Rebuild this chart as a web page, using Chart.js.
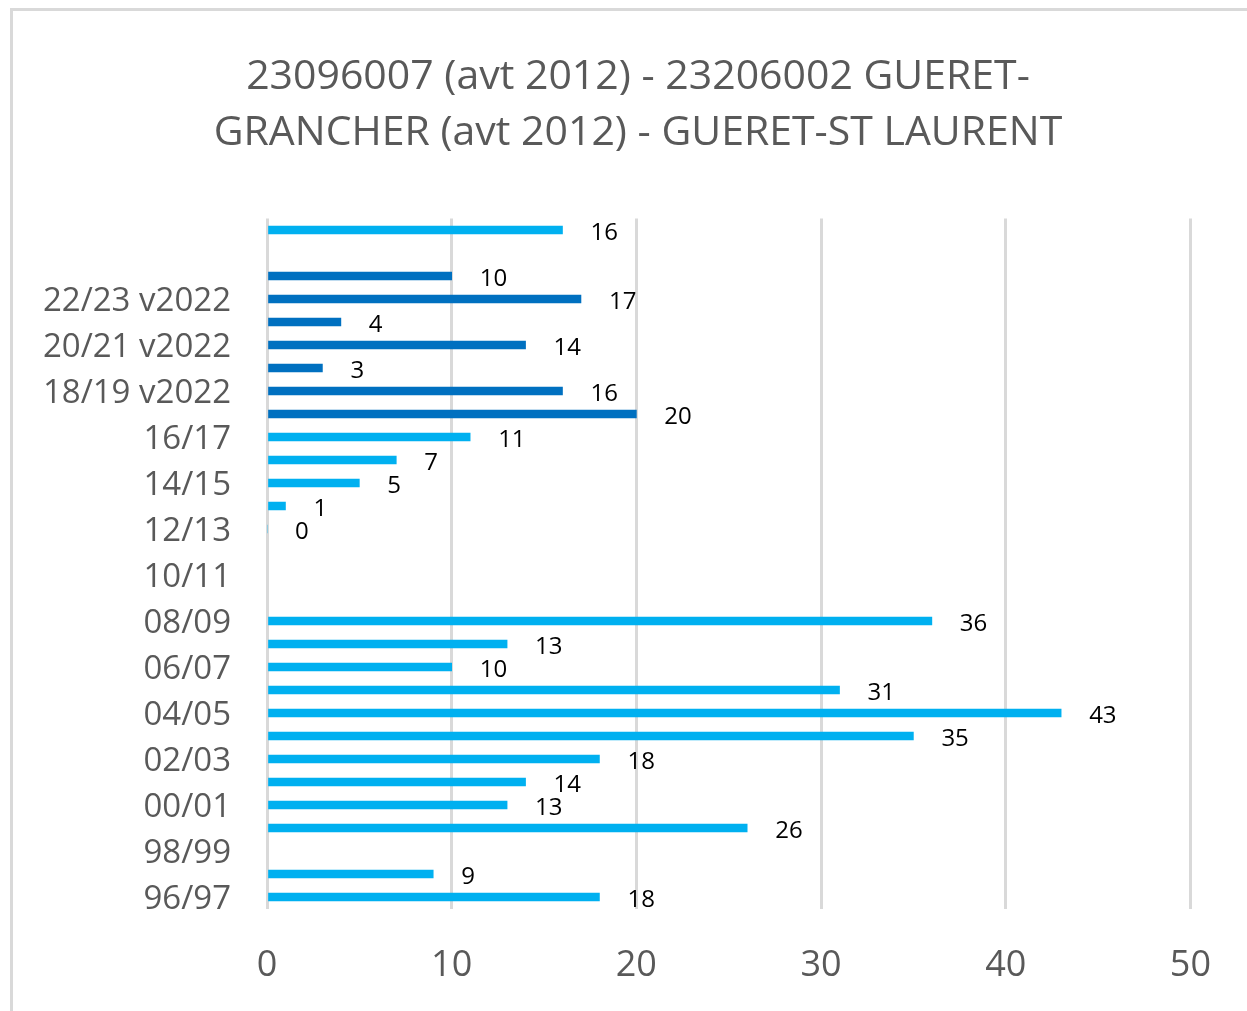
<!DOCTYPE html>
<html>
<head>
<meta charset="utf-8">
<script src="https://cdn.jsdelivr.net/npm/chart.js@4"></script>
<style>
  html, body { margin: 0; padding: 0; background: #fff; overflow: hidden; }
  #frame {
    position: absolute; left: 10px; top: 8px; width: 1300px; height: 1100px;
    border-left: 3px solid #d9d9d9; border-top: 3px solid #d9d9d9;
  }
  #wrap { position: absolute; left: 0; top: 0; width: 1247px; height: 1011px; }
</style>
</head>
<body>
<div id="frame"></div>
<div id="wrap"><canvas id="chart"></canvas></div>
<script>
// seasons, bottom to top
const seasons = [
  "96/97", "97/98", "98/99", "99/00", "00/01", "01/02", "02/03", "03/04",
  "04/05", "05/06", "06/07", "07/08", "08/09", "09/10", "10/11", "11/12",
  "12/13", "13/14", "14/15", "15/16", "16/17",
  "17/18 v2022", "18/19 v2022", "19/20 v2022", "20/21 v2022",
  "21/22 v2022", "22/23 v2022", "23/24 v2022",
  "", " "
];

// old counting (light blue)
const countsOld = [
  18, 9, null, 26, 13, 14, 18, 35,
  43, 31, 10, 13, 36, null, null, null,
  0, 1, 5, 7, 11,
  null, null, null, null, null, null, null,
  null, 16
];

// v2022 counting (dark blue)
const countsV2022 = [
  null, null, null, null, null, null, null, null,
  null, null, null, null, null, null, null, null,
  null, null, null, null, null,
  20, 16, 3, 14, 4, 17, 10,
  null, null
];

const xTicks = [0, 10, 20, 30, 40, 50];

const titleLines = [
  "23096007 (avt 2012) - 23206002 GUERET-",
  "GRANCHER (avt 2012) - GUERET-ST LAURENT"
];

const FONT = "'Open Sans', 'Noto Sans', sans-serif";

// two-line title, centred over the plot like the original
const titleText = {
  id: "titleText",
  afterDraw(chart) {
    const ctx = chart.ctx;
    ctx.save();
    ctx.font = "41px " + FONT;
    ctx.fillStyle = "#595959";
    ctx.textAlign = "center";
    ctx.textBaseline = "middle";
    titleLines.forEach((line, i) => ctx.fillText(line, 638, 77 + i * 56));
    ctx.restore();
  }
};

// value labels at the end of each bar
const barLabels = {
  id: "barLabels",
  afterDatasetsDraw(chart) {
    const ctx = chart.ctx;
    ctx.save();
    ctx.font = "24px " + FONT;
    ctx.fillStyle = "#000";
    ctx.textAlign = "left";
    ctx.textBaseline = "middle";
    chart.data.datasets.forEach((ds, i) => {
      const meta = chart.getDatasetMeta(i);
      meta.data.forEach((bar, j) => {
        const v = ds.data[j];
        if (v === null || v === undefined) return;
        ctx.fillText(String(v), bar.x + 28, bar.y + 3);
      });
    });
    ctx.restore();
  }
};

new Chart(document.getElementById("chart"), {
  type: "bar",
  data: {
    labels: seasons,
    datasets: [
      { label: "avant 2022", data: countsOld, backgroundColor: "#00B0F0", barThickness: 8 },
      { label: "v2022", data: countsV2022, backgroundColor: "#0070C0", barThickness: 8 }
    ]
  },
  plugins: [barLabels, titleText],
  options: {
    indexAxis: "y",
    responsive: true,
    maintainAspectRatio: false,
    animation: false,
    layout: { padding: { left: 0, right: 55, top: 218.5, bottom: 0 } },
    plugins: {
      legend: { display: false },
      tooltip: { enabled: false },
      title: { display: false }
    },
    scales: {
      x: {
        stacked: true,
        min: 0,
        max: 50,
        afterBuildTicks(scale) {
          scale.ticks = xTicks.map(v => ({ value: v }));
        },
        afterFit(scale) { scale.height = 102.5; },
        grid: { color: "#d9d9d9", lineWidth: 3, drawTicks: false },
        border: { display: false },
        ticks: {
          color: "#595959",
          padding: 36,
          font: { family: FONT, size: 36 }
        }
      },
      y: {
        stacked: true,
        reverse: true,
        afterFit(scale) { scale.width = 267; },
        grid: { display: false, drawTicks: false },
        border: { display: false },
        ticks: {
          autoSkip: false,
          color: "#595959",
          padding: 36,
          labelOffset: 3,
          font: { family: FONT, size: 33 },
          callback(value, index) {
            return index % 2 === 0 ? seasons[index] : "";
          }
        }
      }
    }
  }
});
</script>
</body>
</html>
